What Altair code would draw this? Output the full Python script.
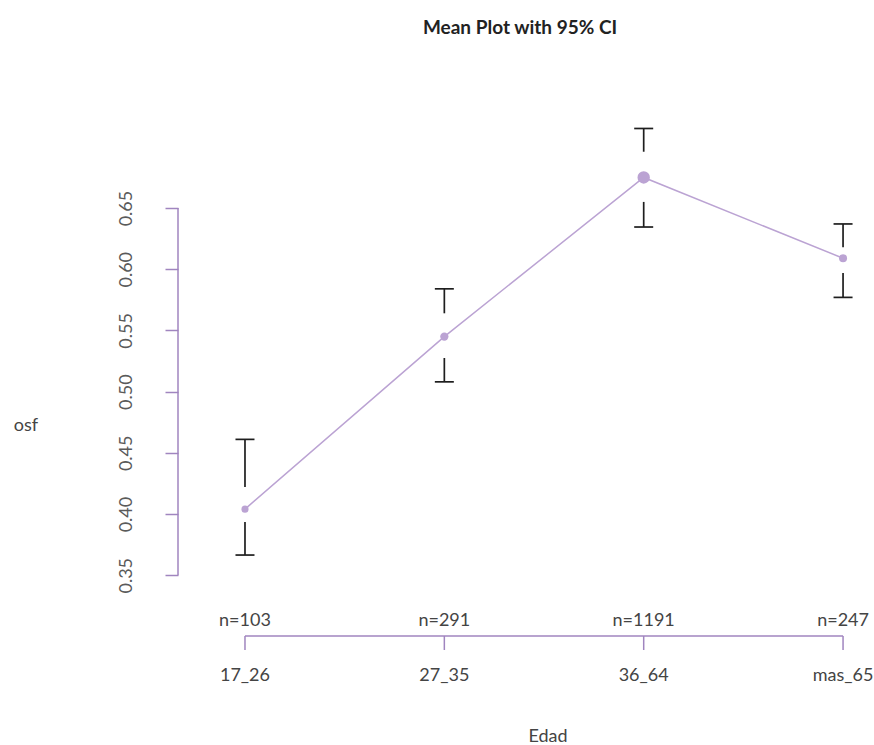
import altair as alt
import pandas as pd

categories = ["17_26", "27_35", "36_64", "mas_65"]
n_obs = [103, 291, 1191, 247]
means = [0.404, 0.545, 0.675, 0.609]
ci_upper = [0.461, 0.584, 0.715, 0.637]
ci_lower = [0.3665, 0.508, 0.6345, 0.577]
upper_bar_end = [0.422, 0.564, 0.696, 0.618]
lower_bar_start = [0.3935, 0.5275, 0.655, 0.597]
y_ticks = [0.35, 0.40, 0.45, 0.50, 0.55, 0.60, 0.65]

FONT = "Lato"
PURPLE = "#bba3d3"
AXIS_PURPLE = "#a085bf"
INK = "#1e1e1e"

df = pd.DataFrame({
    "cat": categories,
    "idx": list(range(len(categories))),
    "n": n_obs,
    "n_label": ["n=%d" % v for v in n_obs],
    "mean": means,
    "up": ci_upper,
    "lo": ci_lower,
    "up_end": upper_bar_end,
    "lo_start": lower_bar_start,
})
yaxis_df = pd.DataFrame({"y0": [min(y_ticks)], "y1": [max(y_ticks)]})
xaxis_df = pd.DataFrame({"x0": [0], "x1": [len(categories) - 1]})

xs = alt.Scale(domain=[-0.336, 3.075], nice=False, zero=False)
ys = alt.Scale(domain=[0.3216, 0.7301], nice=False, zero=False)
yax = alt.Axis(values=y_ticks, format=".2f", labelAngle=270, labelAlign="center",
               labelBaseline="alphabetic", tickSize=13, tickColor=AXIS_PURPLE,
               tickWidth=1.5, domain=False, grid=False, labelPadding=34,
               labelFontSize=18, labelFont=FONT, labelColor="#5a5a5a", title=None)

X = alt.X("idx:Q", scale=xs, axis=None)

def Y(field):
    return alt.Y(field, type="quantitative", scale=ys, axis=yax)

base = alt.Chart(df)

line = base.mark_line(color=PURPLE, strokeWidth=1.5).encode(x=X, y=Y("mean"))
points = base.mark_circle(color=PURPLE, opacity=1).encode(
    x=X, y=Y("mean"),
    size=alt.Size("n:Q", scale=alt.Scale(domain=[103, 1191], range=[50, 154], zero=False), legend=None))
up_seg = base.mark_rule(color=INK, strokeWidth=1.7).encode(x=X, y=Y("up"), y2="up_end")
lo_seg = base.mark_rule(color=INK, strokeWidth=1.7).encode(x=X, y=Y("lo_start"), y2="lo")
up_cap = base.mark_tick(color=INK, orient="horizontal", size=19, thickness=1.7, opacity=1).encode(x=X, y=Y("up"))
lo_cap = base.mark_tick(color=INK, orient="horizontal", size=19, thickness=1.7, opacity=1).encode(x=X, y=Y("lo"))

y_domain = alt.Chart(yaxis_df).mark_rule(color=AXIS_PURPLE, strokeWidth=1.5).encode(
    x=alt.value(0), y=Y("y0"), y2="y1")

x_domain = alt.Chart(xaxis_df).mark_rule(color=AXIS_PURPLE, strokeWidth=1.5).encode(
    x=alt.X("x0:Q", scale=xs, axis=None), x2="x1", y=alt.value(526))
x_ticks = base.mark_rule(color=AXIS_PURPLE, strokeWidth=1.5).encode(
    x=X, y=alt.value(526), y2=alt.value(540))
n_text = base.mark_text(fontSize=18, font=FONT, color="#444444", baseline="middle").encode(
    x=X, y=alt.value(511), text="n_label:N")
cat_text = base.mark_text(fontSize=18, font=FONT, color="#444444", baseline="middle").encode(
    x=X, y=alt.value(566), text="cat:N")

title = alt.Chart(pd.DataFrame({"t": ["Mean Plot with 95% CI"]})).mark_text(
    fontSize=19, font=FONT, fontWeight="bold", color="#222222", baseline="middle").encode(
    x=alt.value(342), y=alt.value(-82), text="t:N")
ytitle = alt.Chart(pd.DataFrame({"t": ["osf"]})).mark_text(
    fontSize=18, font=FONT, color="#444444", baseline="middle").encode(
    x=alt.value(-152), y=alt.value(316), text="t:N")
xtitle = alt.Chart(pd.DataFrame({"t": ["Edad"]})).mark_text(
    fontSize=18, font=FONT, color="#444444", baseline="middle").encode(
    x=alt.value(370), y=alt.value(627), text="t:N")

chart = alt.layer(
    y_domain, x_domain, x_ticks, line, points, up_seg, lo_seg, up_cap, lo_cap,
    n_text, cat_text, title, ytitle, xtitle
).properties(
    width=680, height=500,
    padding={"left": 178, "top": 110, "right": 16, "bottom": 135},
    autosize=alt.AutoSizeParams(type="none"),
    background="white",
).configure_view(strokeWidth=0, stroke=None)

chart.save("out.html", embed_options={"renderer": "svg", "actions": False})
